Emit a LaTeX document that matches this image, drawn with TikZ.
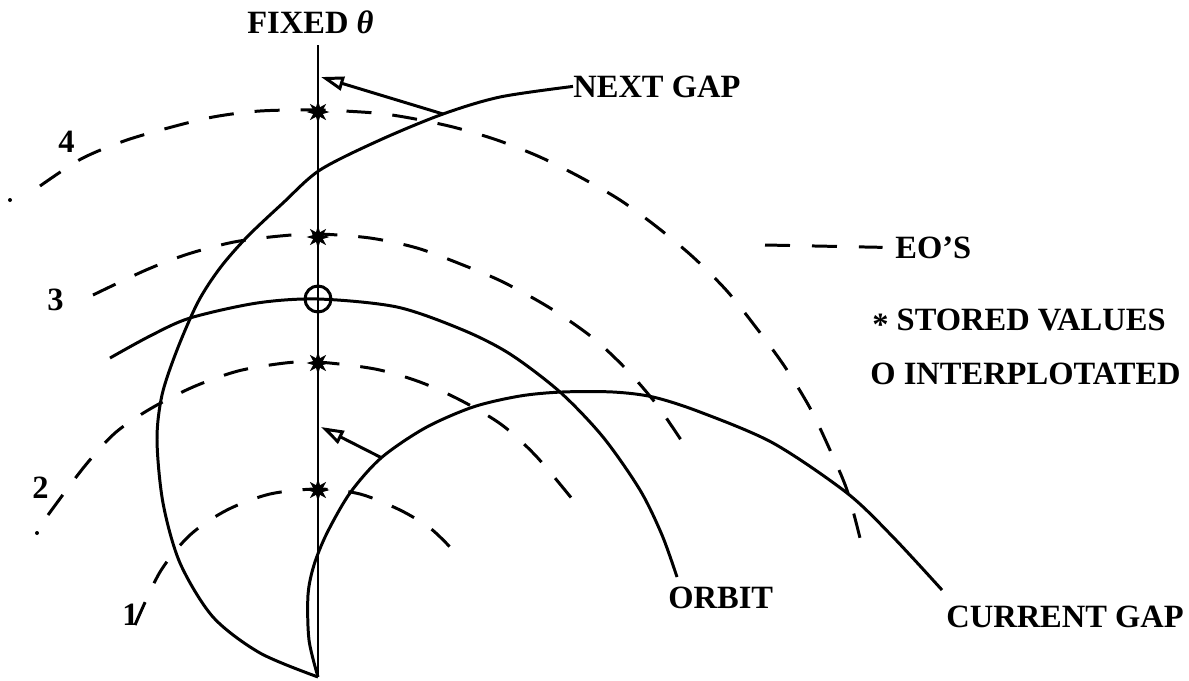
\documentclass[tikz,border=0pt]{standalone}
\usepackage{fontspec}
\setmainfont{Liberation Serif}
\usetikzlibrary{arrows.meta,shapes.geometric}

\tikzset{
  curve/.style={line width=1.7pt},
  eo/.style={line width=1.7pt, dash pattern=on 0.5cm off 0.42cm},
  lbl/.style={font=\fontsize{18.5}{21}\selectfont\bfseries, inner sep=0pt, anchor=base west},
  stored/.style={star, star points=8, star point ratio=2.2, fill, inner sep=0pt, minimum size=0.46cm},
  interp/.style={circle, draw, line width=1.7pt, inner sep=0pt, minimum size=0.52cm},
  gaparrow/.style={line width=1.7pt, -{Triangle[open, length=13pt, width=8pt]}}
}

\begin{document}
\begin{tikzpicture}[x=0.02cm, y=-0.02cm, line join=round]
  \useasboundingbox (0,0) rectangle (1189,680);

  % fixed theta line
  \node[lbl] (fix) at (247,33) {FIXED \textit{θ}};
  \coordinate (axtop) at (318,45);
  \coordinate (axbot) at (318,677);
  \draw[curve] (axtop) -- (axbot);

  % EO's
  \fill (10,200) circle (2);
  \draw[eo] plot[smooth] coordinates {(40,186) (81,159) (124,141) (168,128) (213,117) (260,111) (318,110) (375,113) (410,118) (453,127) (497,140) (540,157) (580,177) (620,200) (657,227) (693,257) (727,291) (758,330) (785,367) (810,408) (830,450) (847,490) (860,538)};
  \draw[eo] plot[smooth] coordinates {(93,295) (146,270) (188,254) (234,242) (280,236) (318,234) (370,238) (417,248) (463,265) (503,282) (550,308) (593,338) (627,370) (657,405) (683,443)};
  \fill (37,533) circle (2);
  \draw[eo] plot[smooth] coordinates {(48,515) (84,467) (115,433) (150,409) (193,387) (238,371) (285,363) (318,362) (375,369) (420,382) (462,401) (502,425) (536,456) (573,500)};
  \draw[eo] plot[smooth] coordinates {(135,625) (160,572) (190,535) (227,510) (270,494) (318,489) (360,494) (400,510) (430,528) (450,547)};

  \node[lbl] (n4) at (58,152) {4};
  \node[lbl] (n3) at (47,310) {3};
  \node[lbl] (n2) at (32,498) {2};
  \node[lbl] (n1) at (122,625) {1};

  % orbit and gaps
  \node[lbl] (orbl) at (668,608) {ORBIT};
  \node[lbl] (cgl) at (946,627) {CURRENT GAP};
  \node[lbl] (ngl) at (573,97) {NEXT GAP};

  \draw[curve] plot[smooth] coordinates {(110,358) (150,336) (190,318) (257,303) (318,299) (397,307) (463,330) (510,354) (560,392) (603,437) (640,490) (662,535) (677,577)};
  \draw[curve] plot[smooth] coordinates {(axbot) (260,653) (213,617) (180,563) (163,503) (157,440) (162,395) (177,350) (198,302) (220,268) (247,237) (283,203) (320,170) (380,140) (443,114) (500,97) (ngl.west)};
  \draw[curve] plot[smooth] coordinates {(axbot) (309,640) (308,595) (314,565) (327,533) (350,493) (381,458) (425,428) (473,407) (520,396) (562,392) (613,392) (653,397) (700,412) (773,443) (847,493) (893,537) (942,590)};

  \coordinate (ngfoot) at (443,114);
  \coordinate (ngtip) at (321,77);
  \coordinate (cgfoot) at (382,458);
  \coordinate (cgtip) at (321,427);
  \draw[gaparrow] (ngfoot) -- (ngtip);
  \draw[gaparrow] (cgfoot) -- (cgtip);

  % stored / interpolated values
  \foreach \y in {112,237,363,490}
    \node[stored] (st\y) at (318,\y) {};
  \node[interp] (ip) at (318,299) {};

  % legend
  \node[lbl] (eos) at (895,258) {EO'S};
  \coordinate (eostart) at (765,245);
  \draw[eo, dash pattern=on 0.5cm off 0.44cm] (eostart) -- ([xshift=-0.25cm]eos.west);
  \node[lbl] (sv) at (872,330) {\raisebox{-0.35ex}{*} STORED VALUES};
  \node[lbl] (iv) at (870,384) {O INTERPLOTATED};
\end{tikzpicture}
\end{document}
